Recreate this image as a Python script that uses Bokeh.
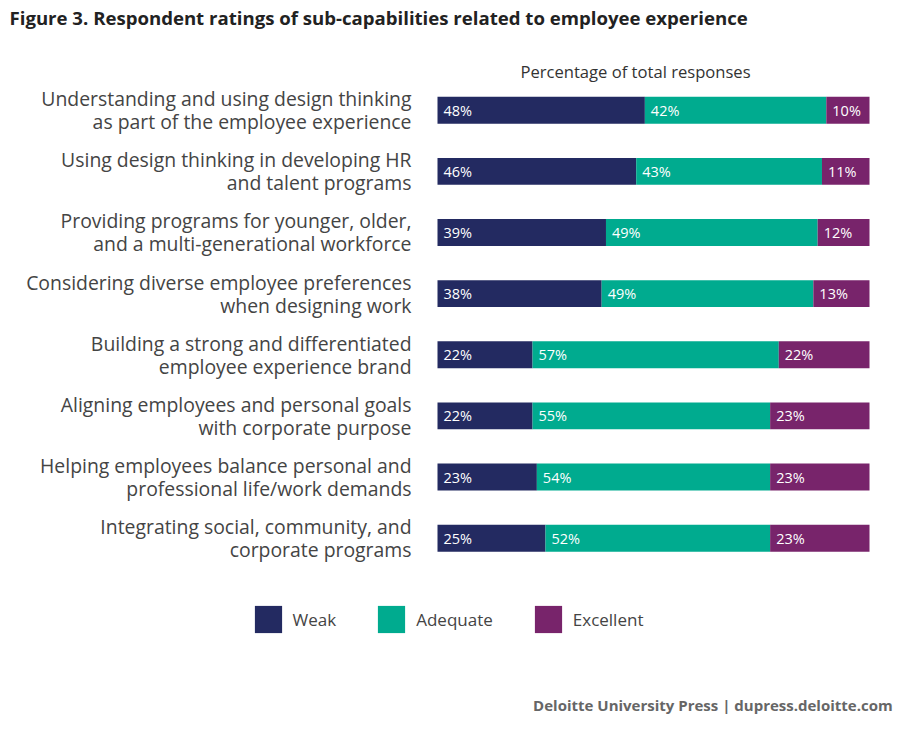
from bokeh.plotting import figure
from bokeh.models import ColumnDataSource, Label, Legend, LegendItem, Range1d
from bokeh.core.properties import value
from bokeh.embed import file_html
from bokeh.resources import INLINE

categories = [
    "Understanding and using design thinking\nas part of the employee experience",
    "Using design thinking in developing HR\nand talent programs",
    "Providing programs for younger, older,\nand a multi-generational workforce",
    "Considering diverse employee preferences\nwhen designing work",
    "Building a strong and differentiated\nemployee experience brand",
    "Aligning employees and personal goals\nwith corporate purpose",
    "Helping employees balance personal and\nprofessional life/work demands",
    "Integrating social, community, and\ncorporate programs",
]
weak = [48, 46, 39, 38, 22, 22, 23, 25]
adequate = [42, 43, 49, 49, 57, 55, 54, 52]
excellent = [10, 11, 12, 13, 22, 23, 23, 23]
series = ["Weak", "Adequate", "Excellent"]
colors = ["#232a61", "#00ab8f", "#78246b"]

FONT = value("Open Sans")
W, H = 900, 740

# layout (pixels): bar axis 0..100% spans px 437..869, row pitch ~61.1 px, first row centre 109.7 px
PX_PER_PCT = 4.32
X0_PX = 437
ROW_PX = 61.14
ROW0_PX = 109.7

rows = list(range(len(categories)))
n = len(rows)

p = figure(width=W, height=H, output_backend="svg", toolbar_location=None,
           x_range=Range1d(-X0_PX / PX_PER_PCT, (W - X0_PX) / PX_PER_PCT),
           y_range=Range1d((H - ROW0_PX) / ROW_PX, -ROW0_PX / ROW_PX),
           x_axis_location=None, y_axis_location=None,
           min_border=0)
p.outline_line_color = None
p.xgrid.visible = False
p.ygrid.visible = False
p.background_fill_color = "white"
p.border_fill_color = "white"

# stacked segments (capped at 100% as in the original graphic)
vals = [weak, adequate, excellent]
renderers = []
seg_x, seg_y, seg_t = [], [], []
lefts = [0] * n
for s_name, col, v in zip(series, colors, vals):
    rights = [min(l + x, 100) for l, x in zip(lefts, v)]
    src = ColumnDataSource(dict(y=rows, left=lefts, right=rights))
    r = p.hbar(y="y", left="left", right="right", height=0.44, fill_color=col,
               line_color=None, source=src)
    renderers.append(r)
    seg_x += lefts
    seg_y += rows
    seg_t += [f"{x}%" for x in v]
    lefts = rights

seg_src = ColumnDataSource(dict(x=seg_x, y=seg_y, t=seg_t))
p.text(x="x", y="y", text="t", source=seg_src, x_offset=6,
       text_color="white", text_font=FONT, text_font_size="14.5px",
       text_baseline="middle", text_align="left")

# category labels (two lines, right aligned)
cat_src = ColumnDataSource(dict(
    y=rows, zero=[0] * n,
    line1=[c.split("\n")[0] for c in categories],
    line2=[c.split("\n")[1] for c in categories],
))
for col, off in (("line1", -11.5), ("line2", 11.5)):
    p.text(x="zero", y="y", text=col, source=cat_src, x_offset=-26, y_offset=off,
           text_color="#444444", text_font=FONT, text_font_size="19.4px",
           text_baseline="middle", text_align="right")

# title, subtitle, footer
p.add_layout(Label(x=9, y=H - 17, x_units="screen", y_units="screen",
                   text="Figure 3. Respondent ratings of sub-capabilities related to employee experience",
                   text_font="Open Sans", text_font_style="bold", text_font_size="18.6px",
                   text_color="#222222", text_baseline="alphabetic"))
p.add_layout(Label(x=635, y=H - 71, x_units="screen", y_units="screen",
                   text="Percentage of total responses",
                   text_font="Open Sans", text_font_size="16.6px", text_color="#333333",
                   text_baseline="alphabetic", text_align="center"))
p.add_layout(Label(x=900, y=H - 704, x_units="screen", y_units="screen",
                   text="Deloitte University Press  |  dupress.deloitte.com",
                   text_font="Open Sans", text_font_style="bold", text_font_size="15px",
                   text_color="#666666", text_baseline="alphabetic", text_align="right"))

legend = Legend(items=[LegendItem(label=s, renderers=[r]) for s, r in zip(series, renderers)],
                orientation="horizontal", location=(250.6, H - 636),
                glyph_width=34, glyph_height=34, label_standoff=8, spacing=38,
                padding=0, margin=0, border_line_color=None, background_fill_alpha=0,
                label_text_font="Open Sans", label_text_font_size="17px",
                label_text_color="#444444")
p.add_layout(legend, "center")

open("out.html", "w").write(file_html(p, INLINE))
